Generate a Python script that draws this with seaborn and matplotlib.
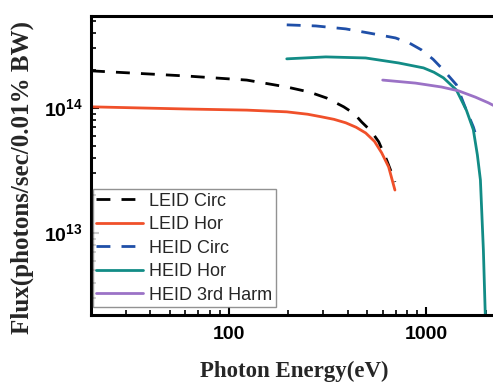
import numpy as np
import pandas as pd
import matplotlib
matplotlib.use("Agg")
import matplotlib.pyplot as plt
from matplotlib.ticker import FixedLocator, LogLocator, NullFormatter, FuncFormatter
import seaborn as sns

sns.set_theme(style="white")
plt.rcParams["font.family"] = ["Liberation Sans", "DejaVu Sans"]
plt.rcParams["mathtext.fontset"] = "custom"
plt.rcParams["mathtext.rm"] = "Liberation Sans:bold"
plt.rcParams["mathtext.bf"] = "Liberation Sans:bold"

# Photon energy (eV) and flux (photons/sec/0.01% BW) for each source mode
leid_circ_e = [20, 61, 123, 196, 255, 312, 381, 430, 470, 525, 573, 628, 681, 692]
leid_circ_f = [1.98e14, 1.80e14, 1.67e14, 1.47e14, 1.34e14, 1.20e14, 1.02e14, 9.0e13,
               7.7e13, 6.5e13, 5.35e13, 3.84e13, 2.75e13, 2.55e13]

leid_hor_e = [20, 61, 123, 196, 250, 292, 340, 390, 440, 492, 545, 593, 643, 692]
leid_hor_f = [1.02e14, 0.98e14, 0.96e14, 0.93e14, 0.89e14, 0.85e14, 0.81e14, 7.6e13,
              7.0e13, 6.3e13, 5.4e13, 4.37e13, 3.37e13, 2.2e13]

heid_circ_e = [196, 275, 390, 509, 697, 820, 944, 1080, 1219, 1418, 1575, 1726, 1810]
heid_circ_f = [4.62e14, 4.53e14, 4.29e14, 3.98e14, 3.63e14, 3.3e14, 2.91e14, 2.45e14,
               2.01e14, 1.53e14, 1.0e14, 7.05e13, 5.55e13]

heid_hor_e = [196, 309, 492, 722, 966, 1090, 1219, 1418, 1592, 1726, 1810, 1875, 1941, 1990]
heid_hor_f = [2.47e14, 2.56e14, 2.51e14, 2.29e14, 2.09e14, 1.93e14, 1.74e14, 1.39e14,
              9.6e13, 6.7e13, 4.2e13, 2.65e13, 7.3e12, 1.9e12]

heid_3rd_e = [600, 879, 1191, 1452, 1767, 2054, 2200]
heid_3rd_f = [1.67e14, 1.58e14, 1.47e14, 1.37e14, 1.22e14, 1.10e14, 1.04e14]

series = [
    ("LEID Circ", leid_circ_e, leid_circ_f, "#000000", (5, 4)),
    ("LEID Hor", leid_hor_e, leid_hor_f, "#F0502A", ""),
    ("HEID Circ", heid_circ_e, heid_circ_f, "#1F4FA8", (5, 4)),
    ("HEID Hor", heid_hor_e, heid_hor_f, "#128C86", ""),
    ("HEID 3rd Harm", heid_3rd_e, heid_3rd_f, "#9B72C6", ""),
]

fig = plt.figure(figsize=(4.93, 3.83), dpi=100)
ax = fig.add_axes([91 / 493, 1 - 315 / 383, 1 - 91 / 493 + 0.01, (315 - 16) / 383])

for name, e, f, color, dash in series:
    df = pd.DataFrame({"energy": e, "flux": f})
    sns.lineplot(data=df, x="energy", y="flux", ax=ax, color=color,
                 linewidth=2.0, sort=False, label=name)
    if dash:
        ax.lines[-1].set_dashes(dash)

ax.set_xscale("log")
ax.set_yscale("log")
ax.set_xlim(20, 2300)
ax.set_ylim(2.2e12, 5.44e14)

# ticks point inward, minor ticks on both axes
ax.xaxis.set_major_locator(FixedLocator([100, 1000]))
ax.xaxis.set_minor_locator(LogLocator(base=10, subs=np.arange(2, 10)))
ax.xaxis.set_minor_formatter(NullFormatter())
ax.xaxis.set_major_formatter(FuncFormatter(lambda v, p: f"{int(round(v))}"))
ax.yaxis.set_major_locator(FixedLocator([1e13, 1e14]))
ax.yaxis.set_minor_locator(LogLocator(base=10, subs=np.arange(2, 10)))
ax.yaxis.set_minor_formatter(NullFormatter())
ax.yaxis.set_major_formatter(FuncFormatter(lambda v, p: r"$10^{%d}$" % int(round(np.log10(v)))))

ax.tick_params(axis="both", which="major", direction="in", length=6, width=1.5,
               colors="black", labelsize=14, bottom=True, left=True, top=False, right=False)
ax.tick_params(axis="both", which="minor", direction="in", length=3.5, width=1.2,
               colors="black", bottom=True, left=True, top=False, right=False)
ax.tick_params(axis="x", which="major", pad=8)
ax.tick_params(axis="y", which="major", pad=6)
for lab in ax.get_xticklabels():
    lab.set_fontweight("bold")

for side in ["left", "bottom", "top"]:
    ax.spines[side].set_visible(True)
    ax.spines[side].set_color("black")
    ax.spines[side].set_linewidth(2.2)
ax.spines["right"].set_visible(False)

ax.set_xlabel("Photon Energy(eV)", fontsize=16.5, fontweight="bold",
              family=["Liberation Serif"], labelpad=13)
ax.set_ylabel("Flux(photons/sec/0.01% BW)", fontsize=18, fontweight="bold",
              family=["Liberation Serif"])
ax.yaxis.set_label_coords(-56 / 402, 0.46)

leg = ax.legend(loc="lower left", bbox_to_anchor=(0.0, 0.02), frameon=True,
                fontsize=13, handlelength=2.6, handletextpad=0.3,
                labelspacing=0.36, borderpad=0.2, borderaxespad=0.1, fancybox=False)
leg.get_frame().set_edgecolor("#777777")
leg.get_frame().set_linewidth(1.0)

fig.savefig("out.png", dpi=100)
